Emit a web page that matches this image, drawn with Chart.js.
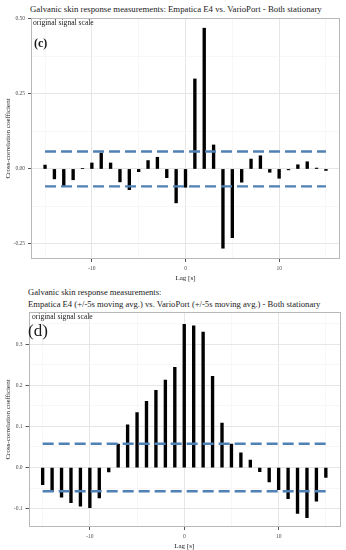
<!DOCTYPE html>
<html><head><meta charset="utf-8">
<script src="https://cdn.jsdelivr.net/npm/chart.js@4/dist/chart.umd.min.js"></script>
<style>
html,body{margin:0;padding:0;background:#fff;}
body{width:346px;height:550px;position:relative;overflow:hidden;font-family:"Liberation Serif","DejaVu Serif",serif;}
.t{position:absolute;white-space:nowrap;line-height:1;transform:translateY(-50%);color:#1a1a1a;}
.box{position:absolute;left:0;}
</style></head><body>
<div class="t" style="left:30px;top:8.5px;font-size:8.75px">Galvanic skin response measurements: Empatica E4 vs. VarioPort - Both stationary</div>
<div class="t" style="left:28px;top:291.7px;font-size:8.6px">Galvanic skin response measurements:</div>
<div class="t" style="left:28px;top:303.5px;font-size:8.6px">Empatica E4 (+/-5s moving avg.) vs. VarioPort (+/-5s moving avg.) - Both stationary</div>
<div class="box" style="top:0;width:346px;height:282px"><canvas id="c1" width="346" height="282"></canvas></div>
<div class="box" style="top:282px;width:346px;height:268px"><canvas id="c2" width="346" height="268"></canvas></div>
<div class="t" style="left:33px;top:22.7px;font-size:7.6px">original signal scale</div>
<div class="t" style="left:34px;top:43px;font-size:12px;font-weight:bold">(c)</div>
<div class="t" style="left:32px;top:316.7px;font-size:7.6px">original signal scale</div>
<div class="t" style="left:28px;top:330px;font-size:17px">(d)</div>
<script>
const lags = [-15,-14,-13,-12,-11,-10,-9,-8,-7,-6,-5,-4,-3,-2,-1,0,1,2,3,4,5,6,7,8,9,10,11,12,13,14,15];
const ccfRaw = [0.013,-0.033,-0.058,-0.036,0.002,0.020,0.053,0.020,-0.043,-0.069,-0.009,0.028,0.039,-0.029,-0.113,-0.061,0.300,0.469,0.080,-0.264,-0.229,-0.044,0.033,0.044,-0.011,-0.031,-0.003,0.014,0.024,0.003,-0.005];
const ccfAvg = [-0.042,-0.058,-0.072,-0.086,-0.094,-0.098,-0.074,-0.011,0.057,0.104,0.134,0.161,0.188,0.213,0.244,0.349,0.345,0.330,0.222,0.108,0.057,0.036,0.018,-0.010,-0.035,-0.054,-0.076,-0.112,-0.122,-0.082,-0.024];
const confLimit = 0.058;
const xMajor = [-10,0,10];
const xMajorLabels = ['-10','0','10'];
const xMinor = [-15,-5,5,15];
const topYMajor = [-0.25,0,0.25,0.5];
const topYMajorLabels = ['-0.25','0.00','0.25','0.50'];
const topYMinor = [-0.125,0.125,0.375];
const botYMajor = [-0.1,0,0.1,0.2,0.3];
const botYMajorLabels = ['-0.1','0.0','0.1','0.2','0.3'];
const botYMinor = [-0.05,0.05,0.15,0.25,0.35];

const panelBorder = {
  id:'panelBorder',
  afterDraw(chart){
    const {ctx, chartArea:a} = chart;
    ctx.save();
    ctx.strokeStyle = '#b8b8b8';
    ctx.lineWidth = 1;
    ctx.strokeRect(Math.round(a.left)+0.5, Math.round(a.top)+0.5, Math.round(a.right-a.left)-1, Math.round(a.bottom-a.top)-1);
    ctx.restore();
  }
};

function idxOf(arr, v){ return arr.findIndex(m => Math.abs(m - v) < 1e-9); }

function makeScale(major, labels, minor, extra){
  const isMajor = c => !!(c && c.tick && idxOf(major, c.tick.value) >= 0);
  return Object.assign({
    type:'linear',
    offset:false,
    afterBuildTicks(s){ s.ticks = minor.concat(major).sort((a,b)=>a-b).map(v=>({value:v})); },
    ticks:{
      autoSkip:false, maxRotation:0,
      color:'#4d4d4d',
      font:{family:'"Liberation Serif", serif', size:5.5},
      callback(v){ const i = idxOf(major, v); return i >= 0 ? labels[i] : ''; }
    },
    grid:{
      offset:false,
      color: c => isMajor(c) ? '#e3e3e3' : '#f1f1f1',
      lineWidth: c => isMajor(c) ? 0.9 : 0.6,
      tickColor: c => isMajor(c) ? '#444' : 'rgba(0,0,0,0)',
      tickLength:3,
      drawTicks:true
    },
    border:{display:false}
  }, extra);
}

function makeChart(id, values, cfg){
  const barData = lags.map((l,i) => ({x:l, y:values[i]}));
  const hi = [{x:lags[0], y:confLimit},{x:lags[lags.length-1], y:confLimit}];
  const lo = [{x:lags[0], y:-confLimit},{x:lags[lags.length-1], y:-confLimit}];
  const dash = {type:'line', borderColor:'#4f81b4', borderWidth:2.4, borderDash:[11,5], pointRadius:0, fill:false, order:0};
  return new Chart(document.getElementById(id), {
    type:'bar',
    data:{datasets:[
      Object.assign({data:hi}, dash),
      Object.assign({data:lo}, dash),
      {type:'bar', data:barData, backgroundColor:'#000', borderWidth:0, barThickness:2.7, order:1}
    ]},
    options:{
      responsive:false, animation:false, devicePixelRatio:1,
      layout:{padding:{top:cfg.padTop, right:6, left:0, bottom:0}},
      plugins:{legend:{display:false}, tooltip:{enabled:false}, title:{display:false}},
      scales:{
        x: makeScale(xMajor, xMajorLabels, xMinor, {
          min:-16.5, max:16.5, position:'bottom',
          afterFit(s){ s.height = 23; },
          title:{display:true, text:'Lag [s]', color:'#1a1a1a', font:{family:'"Liberation Serif", serif', size:7}, padding:{top:3,bottom:0}}
        }),
        y: makeScale(cfg.major, cfg.labels, cfg.minor, {
          min:cfg.yMin, max:cfg.yMax, position:'left',
          afterFit(s){ s.width = cfg.leftW; },
          title:{display:true, text:'Cross-correlation coefficient', color:'#1a1a1a', font:{family:'"Liberation Serif", serif', size:7}, padding:{top:4,bottom:0}}
        })
      }
    },
    plugins:[panelBorder]
  });
}

makeChart('c1', ccfRaw, {padTop:18, leftW:31, yMin:-0.30, yMax:0.503, major:topYMajor, labels:topYMajorLabels, minor:topYMinor});
makeChart('c2', ccfAvg, {padTop:30, leftW:28.5, yMin:-0.145, yMax:0.379, major:botYMajor, labels:botYMajorLabels, minor:botYMinor});
</script>
</body></html>
